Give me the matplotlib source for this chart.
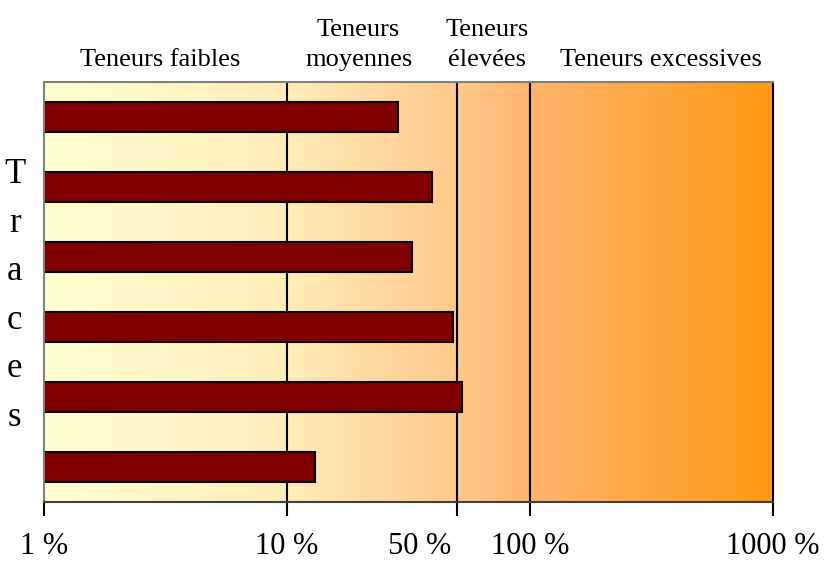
import numpy as np
import matplotlib.pyplot as plt
from matplotlib.colors import LinearSegmentedColormap

plt.rcParams['font.family'] = ['Liberation Serif', 'DejaVu Serif']

# data (percent), top to bottom
values = [28.6, 39.6, 32.8, 48.0, 52.7, 13.0]
tick_pos = [1, 10, 50, 100, 1000]
tick_labels = ['1 %', '10 %', '50 %', '100 %', '1000 %']
label_pos = [1, 10, 35, 100, 1000]
zones = ['Teneurs faibles', 'Teneurs\nmoyennes', 'Teneurs\nélevées', 'Teneurs excessives']
zone_pos = [3.0, 19.7, 66.8, 347]
limits = [10, 50, 100]

fig = plt.figure(figsize=(8.27, 5.62), dpi=100)
ax = fig.add_axes([0.0532, 0.1068, 0.8815, 0.7473])
ax.set_xscale('log')
ax.set_xlim(1, 1000)
ax.set_ylim(len(values) - 0.5, -0.5)

# gradient background
cmap = LinearSegmentedColormap.from_list('bg', [
    (0.0, '#FFFFD2'), (0.33, '#FFEDB9'), (0.57, '#FFC88A'),
    (0.67, '#FFB46C'), (1.0, '#FF9912')])
grad = np.linspace(0, 1, 512).reshape(1, -1)
ax.imshow(grad, cmap=cmap, aspect='auto', extent=[0, 1, 0, 1],
          transform=ax.transAxes, zorder=0)

for v in limits:
    ax.axvline(v, color='black', lw=1.5, zorder=1)

y = np.arange(len(values))
ax.barh(y, [v - 1 for v in values], left=1, height=0.43,
        color='#800000', edgecolor='black', linewidth=1.5, zorder=2)

# axes styling
ax.set_yticks([])
ax.set_xticks(tick_pos)
ax.set_xticklabels([])
ax.minorticks_off()
ax.tick_params(axis='x', direction='out', length=10, width=1.5, color='black')
ax.spines['top'].set_color('#808080')
ax.spines['left'].set_color('#808080')
ax.spines['bottom'].set_color('#404040')
ax.spines['right'].set_color('black')
for s in ax.spines.values():
    s.set_linewidth(1.5)

tr = ax.get_xaxis_transform()
for p, lab in zip(label_pos, tick_labels):
    ax.text(p, -0.105, lab, transform=tr, ha='center', va='center', fontsize=22)

for p, lab in zip(zone_pos, zones):
    ax.text(p, 1.026, lab, transform=tr, ha='center', va='bottom',
            fontsize=19, linespacing=1.5, multialignment='center')

ax.text(-0.040, 0.49, '\n'.join('Traces'), transform=ax.transAxes,
        ha='center', va='center', fontsize=25, linespacing=1.62)

fig.savefig('out.png', dpi=100)
